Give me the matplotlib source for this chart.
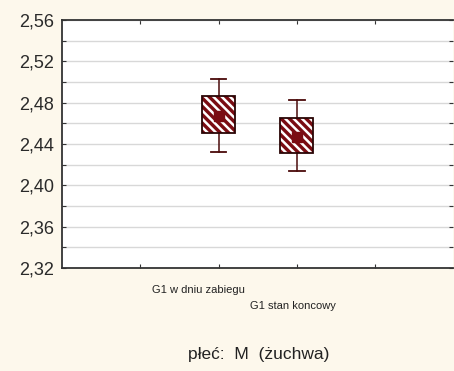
import matplotlib
matplotlib.use("Agg")
import matplotlib.pyplot as plt
from matplotlib.patches import Rectangle
from matplotlib.ticker import MultipleLocator, FuncFormatter

plt.rcParams['font.family'] = ['Liberation Sans', 'DejaVu Sans']
plt.rcParams['hatch.linewidth'] = 1.8

groups = ["G1 w dniu zabiegu", "G1 stan koncowy"]
positions = [2, 3]
means = [2.467, 2.447]
box_lo = [2.451, 2.431]
box_hi = [2.486, 2.465]
whisk_lo = [2.432, 2.414]
whisk_hi = [2.503, 2.483]

bg = "#fdf8ec"
fill = "#7a0c12"
line = "#4a0a0a"

fig = plt.figure(figsize=(4.54, 3.71), dpi=100, facecolor=bg)
ax = fig.add_axes([0.137, 0.278, 0.861, 0.668])
ax.set_facecolor("white")

bw = 0.42
cap = 0.2
for x, m, lo, hi, wl, wh in zip(positions, means, box_lo, box_hi, whisk_lo, whisk_hi):
    ax.plot([x, x], [hi, wh], color=line, lw=1.1, zorder=3)
    ax.plot([x, x], [wl, lo], color=line, lw=1.1, zorder=3)
    ax.plot([x - cap / 2, x + cap / 2], [wh, wh], color=line, lw=1.3, zorder=3)
    ax.plot([x - cap / 2, x + cap / 2], [wl, wl], color=line, lw=1.3, zorder=3)
    # white stripes over dark red, then the outline on top
    ax.add_patch(Rectangle((x - bw / 2, lo), bw, hi - lo, facecolor=fill,
                           edgecolor="white", hatch="\\" * 4, lw=0, zorder=4))
    ax.add_patch(Rectangle((x - bw / 2, lo), bw, hi - lo, fill=False,
                           edgecolor="#2a0505", lw=1.3, zorder=5))
    ax.plot(x, m, marker="s", ms=7, color=fill, mec=fill, zorder=6)

ax.set_xlim(0, 5)
ax.set_ylim(2.32, 2.56)
ax.yaxis.set_major_locator(MultipleLocator(0.04))
ax.yaxis.set_minor_locator(MultipleLocator(0.02))
ax.yaxis.set_major_formatter(FuncFormatter(lambda v, p: f"{v:.2f}".replace(".", ",")))
ax.set_xticks([1, 2, 3, 4])
ax.set_xticklabels([])
ax.grid(True, axis="y", which="both", color="#d8d8d8", lw=1.0, zorder=0)
ax.set_axisbelow(True)
ax.tick_params(axis="both", which="both", direction="in", top=True, right=True,
               length=3, width=0.8, color="#333333")
ax.tick_params(axis="y", labelsize=13, colors="#333333", labelcolor="#2a2a2a", pad=6)
for s in ["left", "top", "bottom"]:
    ax.spines[s].set_color("#333333")
    ax.spines[s].set_linewidth(1.3)
ax.spines["right"].set_visible(False)

fig.text(198 / 454, 1 - 290 / 371, groups[0], ha="center", va="center", fontsize=8, color="#222222")
fig.text(293 / 454, 1 - 306 / 371, groups[1], ha="center", va="center", fontsize=8, color="#222222")
fig.text(259 / 454, 1 - 355 / 371, "płeć:  M  (żuchwa)", ha="center", va="center", fontsize=12.5, color="#222222")

fig.savefig("out.png", dpi=100, facecolor=bg)
